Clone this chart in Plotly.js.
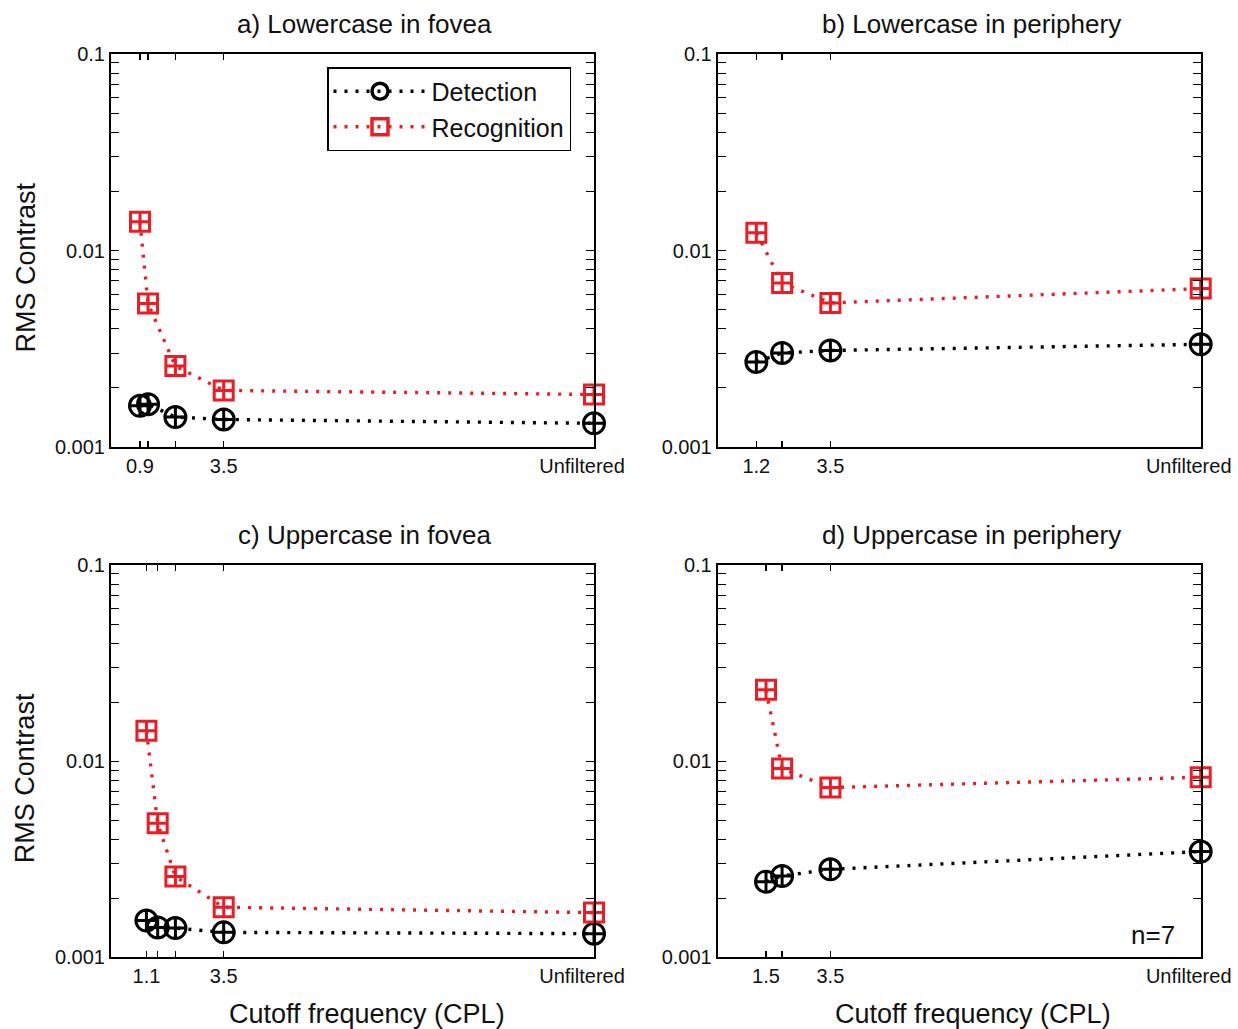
<!DOCTYPE html>
<html>
<head>
<meta charset="utf-8">
<script src="https://cdn.plot.ly/plotly-3.0.1.min.js"></script>
<style>html,body{margin:0;padding:0;background:#fff;}#chart{width:1238px;height:1029px;}</style>
</head>
<body>
<div id="chart"></div>
<script>
// ---- data ----
var panelTitles = ["a) Lowercase in fovea", "b) Lowercase in periphery", "c) Uppercase in fovea", "d) Uppercase in periphery"];
var seriesNames = ["Detection", "Recognition"];

var xA = [0.9, 1.15, 2.0, 3.5, 15];
var detA = [0.00162, 0.00165, 0.00142, 0.00138, 0.00132];
var recA = [0.0140, 0.00537, 0.00258, 0.00194, 0.00185];
var tickTextA = ["0.9", "", "", "3.5", "Unfiltered"];

var xB = [1.2, 2.0, 3.5, 15];
var detB = [0.00271, 0.00301, 0.00310, 0.00333];
var recB = [0.0123, 0.00684, 0.00541, 0.00640];
var tickTextB = ["1.2", "", "3.5", "Unfiltered"];

var xC = [1.1, 1.45, 2.0, 3.5, 15];
var detC = [0.00154, 0.00142, 0.00141, 0.00134, 0.00132];
var recC = [0.0143, 0.00482, 0.00258, 0.00180, 0.00169];
var tickTextC = ["1.1", "", "", "3.5", "Unfiltered"];

var xD = [1.5, 2.0, 3.5, 15];
var detD = [0.00243, 0.00260, 0.00281, 0.00346];
var recD = [0.0231, 0.00916, 0.00733, 0.00828];
var tickTextD = ["1.5", "", "3.5", "Unfiltered"];

var yTickVals = [0.001, 0.01, 0.1];
var yTickText = ["0.001", "0.01", "0.1"];
var yTitle = "RMS Contrast";
var xTitle = "Cutoff frequency (CPL)";
var noteText = "n=7";

// ---- build ----
var RED = "#ec1c24";
var FONT = "Liberation Sans, Arial, Helvetica, sans-serif";
var TXT = "#111";
var W = 1238, H = 1029;
var UNF = "Unfiltered";
var panels = [
  {x: xA, det: detA, rec: recA, tt: tickTextA},
  {x: xB, det: detB, rec: recB, tt: tickTextB},
  {x: xC, det: detC, rec: recC, tt: tickTextC},
  {x: xD, det: detD, rec: recD, tt: tickTextD}
];
var colsPx = [[111, 594], [717.7, 1200.7]];
var rowsPx = [[54, 447], [565, 957.3]];

var minorVals = [];
[0.001, 0.01].forEach(function (b) { for (var k = 2; k <= 9; k++) minorVals.push(+(b * k).toPrecision(3)); });

var data = [];
var layout = {
  width: W, height: H,
  margin: {l: 0, r: 0, t: 0, b: 0},
  paper_bgcolor: "#fff", plot_bgcolor: "#fff",
  font: {family: FONT, size: 20, color: TXT},
  showlegend: true,
  legend: {
    x: 327 / W, y: 1 - 67 / H, xanchor: "left", yanchor: "top",
    bgcolor: "#fff", bordercolor: "#000", borderwidth: 1.5,
    font: {size: 25, family: FONT, color: TXT},
    tracegroupgap: 0, itemwidth: 93
  },
  annotations: []
};

panels.forEach(function (p, i) {
  var r = Math.floor(i / 2), c = i % 2;
  var sfx = i === 0 ? "" : String(i + 1);
  var xa = "x" + sfx, ya = "y" + sfx;
  data.push({
    x: p.x, y: p.det, xaxis: xa, yaxis: ya, type: "scatter", mode: "lines+markers",
    name: seriesNames[0], showlegend: false, cliponaxis: false,
    line: {color: "#000", width: 3.4, dash: "3px,8px"},
    marker: {symbol: "circle-cross-open", size: 21, color: "#000", line: {width: 3, color: "#000"}}
  });
  data.push({
    x: p.x, y: p.rec, xaxis: xa, yaxis: ya, type: "scatter", mode: "lines+markers",
    name: seriesNames[1], showlegend: false, cliponaxis: false,
    line: {color: RED, width: 3.4, dash: "3px,8px"},
    marker: {symbol: "square-cross-open", size: 19, color: RED, line: {width: 3, color: RED}}
  });
  var xdom = [colsPx[c][0] / W, colsPx[c][1] / W];
  var ydom = [1 - rowsPx[r][1] / H, 1 - rowsPx[r][0] / H];
  // main x axis: numeric labels; "Unfiltered" drawn by overlay axis below
  layout["xaxis" + sfx] = {
    domain: xdom, anchor: ya, range: [0, 15], type: "linear",
    tickmode: "array", tickvals: p.x,
    ticktext: p.tt.map(function (s) { return s === UNF ? "" : s; }),
    ticks: "inside", ticklen: 6, tickwidth: 1.3, tickcolor: "#000",
    showline: true, linecolor: "#000", linewidth: 2, mirror: "allticks",
    showgrid: false, zeroline: false, tickfont: {size: 20, color: TXT},
    fixedrange: true
  };
  // overlay axis carrying only the "Unfiltered" label, nudged left as in the reference
  var ovName = "xaxis" + (5 + i);
  var unfIdx = p.tt.indexOf(UNF);
  layout[ovName] = {
    overlaying: xa, anchor: ya, side: "bottom", range: [0, 15], type: "linear",
    tickmode: "array", tickvals: [p.x[unfIdx]], ticktext: [p.tt[unfIdx]],
    ticks: "", showline: false, showgrid: false, zeroline: false,
    tickfont: {size: 20, color: TXT}, ticklabelshift: -12, ticklabelstandoff: 5,
    fixedrange: true
  };
  data.push({x: [null], y: [null], xaxis: "x" + (5 + i), yaxis: ya, type: "scatter",
    mode: "markers", showlegend: false, hoverinfo: "skip"});
  layout["yaxis" + sfx] = {
    domain: ydom, anchor: xa, type: "log", range: [-3, -1],
    tickmode: "array", tickvals: yTickVals, ticktext: yTickText,
    ticks: "inside", ticklen: 8, tickwidth: 1.3, tickcolor: "#000",
    minor: {tickmode: "array", tickvals: minorVals, ticks: "inside", ticklen: 4, tickwidth: 1, tickcolor: "#000", showgrid: false},
    showline: true, linecolor: "#000", linewidth: 2, mirror: "allticks",
    showgrid: false, zeroline: false, tickfont: {size: 20, color: TXT},
    fixedrange: true
  };
  var cx = (colsPx[c][0] + colsPx[c][1]) / 2;
  var cy = (rowsPx[r][0] + rowsPx[r][1]) / 2;
  layout.annotations.push({
    text: panelTitles[i], xref: "paper", yref: "paper",
    x: (cx + 12) / W, y: 1 - (rowsPx[r][0] - 30) / H, xanchor: "center", yanchor: "middle",
    showarrow: false, font: {size: 26, family: FONT, color: TXT}
  });
  if (c === 0) {
    layout.annotations.push({
      text: yTitle, xref: "paper", yref: "paper", textangle: -90,
      x: 25 / W, y: 1 - (cy + 17) / H, xanchor: "center", yanchor: "middle",
      showarrow: false, font: {size: 27, family: FONT, color: TXT}
    });
  }
  if (r === 1) {
    layout.annotations.push({
      text: xTitle, xref: "paper", yref: "paper",
      x: (cx + 14) / W, y: 1 - 1014 / H, xanchor: "center", yanchor: "middle",
      showarrow: false, font: {size: 27, family: FONT, color: TXT}
    });
  }
});

layout.annotations.push({
  text: noteText, xref: "paper", yref: "paper",
  x: 1153 / W, y: 1 - 935 / H, xanchor: "center", yanchor: "middle",
  showarrow: false, font: {size: 26, family: FONT, color: TXT}
});

// legend-only entries (plain markers, as in the reference legend)
data.push({x: [null], y: [null], type: "scatter", mode: "lines+markers", name: seriesNames[0],
  line: {color: "#000", width: 3.4, dash: "3px,8px"},
  marker: {symbol: "circle-open", size: 16, color: "#000", line: {width: 3.5, color: "#000"}}});
data.push({x: [null], y: [null], type: "scatter", mode: "lines+markers", name: seriesNames[1],
  line: {color: RED, width: 3.4, dash: "3px,8px"},
  marker: {symbol: "square-open", size: 16, color: RED, line: {width: 3.5, color: RED}}});

Plotly.newPlot("chart", data, layout, {displayModeBar: false, staticPlot: true});
</script>
</body>
</html>
